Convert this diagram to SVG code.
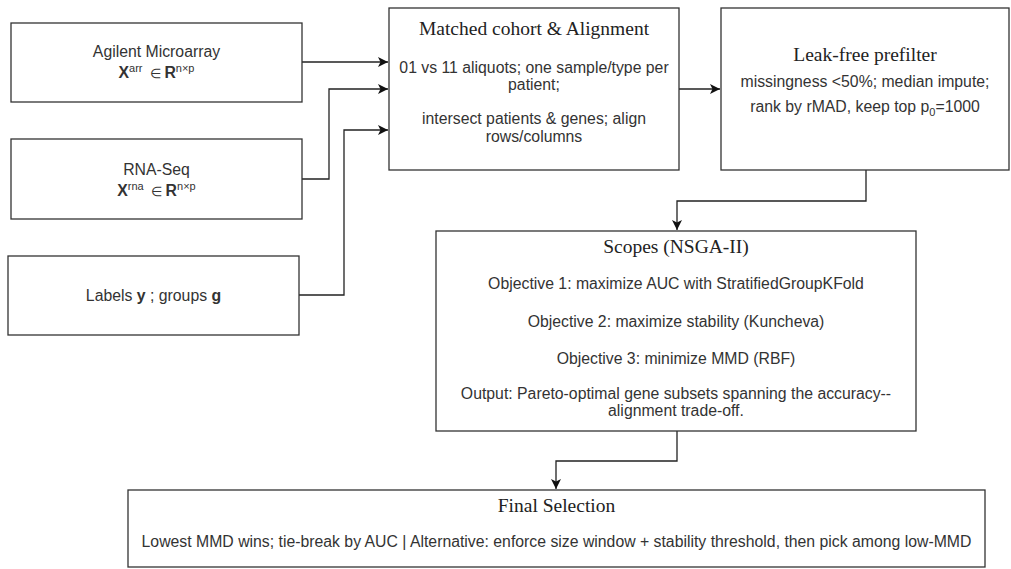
<svg xmlns="http://www.w3.org/2000/svg" width="1011" height="569" viewBox="0 0 1011 569">
<style>
.box{fill:#fff;stroke:#333;stroke-width:1.3}
.t{font-family:"Liberation Serif","Times New Roman",serif;font-size:19.5px;fill:#222;text-anchor:middle}
.b{font-family:"Liberation Sans",Arial,sans-serif;font-size:15.8px;fill:#333;text-anchor:middle}
.bold{font-weight:bold}
.sup{font-size:11px}
.el{font-size:13px}
.edge{fill:none;stroke:#222;stroke-width:1.3}
</style>
<defs>
<marker id="arr" markerUnits="userSpaceOnUse" markerWidth="12" markerHeight="11" refX="10" refY="5" orient="auto">
<path d="M0,0 L10,5 L0,10 L2.5,5 z" fill="#111"/>
</marker>
</defs>
<rect width="1011" height="569" fill="#fff"/>

<g id="connectors">
<path class="edge" d="M302,62 H388" marker-end="url(#arr)"/>
<path class="edge" d="M302,179 H329 V89 H388" marker-end="url(#arr)"/>
<path class="edge" d="M299,295 H344 V130 H388" marker-end="url(#arr)"/>
<path class="edge" d="M679,89 H720" marker-end="url(#arr)"/>
<path class="edge" d="M866,170 V201 H677 V230" marker-end="url(#arr)"/>
<path class="edge" d="M677,431 V461 H556 V489" marker-end="url(#arr)"/>
</g>

<g id="agilent">
<rect class="box" x="11" y="23" width="291" height="79"/>
<text class="b" x="156.5" y="57">Agilent Microarray</text>
<text class="b" x="156.5" y="78"><tspan class="bold">X</tspan><tspan class="sup" dy="-6">arr</tspan><tspan class="el" dy="6">&#160;&#160;∈&#160;</tspan><tspan class="bold">R</tspan><tspan class="sup" dy="-6">n×p</tspan></text>
</g>

<g id="rnaseq">
<rect class="box" x="11" y="139" width="291" height="80"/>
<text class="b" x="156.5" y="175">RNA-Seq</text>
<text class="b" x="156.5" y="196"><tspan class="bold">X</tspan><tspan class="sup" dy="-6">rna</tspan><tspan class="el" dy="6">&#160;&#160;∈&#160;</tspan><tspan class="bold">R</tspan><tspan class="sup" dy="-6">n×p</tspan></text>
</g>

<g id="labels">
<rect class="box" x="8" y="256" width="291" height="79"/>
<text class="b" x="153.5" y="301">Labels <tspan class="bold">y</tspan> ; groups <tspan class="bold">g</tspan></text>
</g>

<g id="matched">
<rect class="box" x="389" y="8" width="290" height="162"/>
<text class="t" x="534" y="35">Matched cohort &amp; Alignment</text>
<text class="b" x="534" y="73">01 vs 11 aliquots; one sample/type per</text>
<text class="b" x="534" y="90">patient;</text>
<text class="b" x="534" y="124">intersect patients &amp; genes; align</text>
<text class="b" x="534" y="142">rows/columns</text>
</g>

<g id="prefilter">
<rect class="box" x="721" y="8" width="288" height="162"/>
<text class="t" x="865" y="61">Leak-free prefilter</text>
<text class="b" x="865" y="87">missingness &lt;50%; median impute;</text>
<text class="b" x="865" y="112">rank by rMAD, keep top p<tspan class="sup" dy="4">0</tspan><tspan dy="-4">=1000</tspan></text>
</g>

<g id="scopes">
<rect class="box" x="436" y="231" width="480" height="200"/>
<text class="t" x="676" y="253">Scopes (NSGA-II)</text>
<text class="b" x="676" y="289">Objective 1: maximize AUC with StratifiedGroupKFold</text>
<text class="b" x="676" y="327">Objective 2: maximize stability (Kuncheva)</text>
<text class="b" x="676" y="364">Objective 3: minimize MMD (RBF)</text>
<text class="b" x="676" y="399">Output: Pareto-optimal gene subsets spanning the accuracy--</text>
<text class="b" x="676" y="416">alignment trade-off.</text>
</g>

<g id="final">
<rect class="box" x="128" y="490" width="857" height="77"/>
<text class="t" x="556.5" y="512">Final Selection</text>
<text class="b" x="556.5" y="547">Lowest MMD wins; tie-break by AUC | Alternative: enforce size window + stability threshold, then pick among low-MMD</text>
</g>
</svg>
